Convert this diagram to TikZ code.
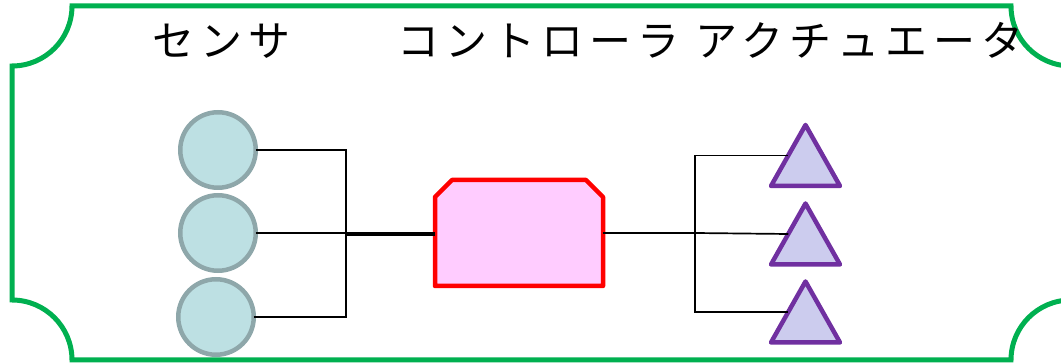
\documentclass[tikz,border=0pt]{standalone}
\usepackage{fontspec}
\newfontfamily\jpfont[LetterSpace=14.5]{Noto Sans CJK JP}
\usetikzlibrary{calc}
\definecolor{framegreen}{HTML}{00B050}
\definecolor{sensorfill}{HTML}{BDE0E3}
\definecolor{sensorline}{HTML}{8EA7AA}
\definecolor{ctrlfill}{HTML}{FFCCFF}
\definecolor{actfill}{HTML}{CCCCEE}
\definecolor{actline}{HTML}{7030A0}
\tikzset{
  frameline/.style={draw=framegreen, line width=5pt},
  sensor/.style={circle, draw=sensorline, fill=sensorfill, line width=4.5pt,
    minimum size=75.5pt, inner sep=0pt, outer sep=0pt},
  boxslot/.style={rectangle, draw=none, inner sep=0pt, outer sep=0pt},
  ctrlbox/.style={draw=red, fill=ctrlfill, line width=4.5pt, line join=round},
  actbox/.style={draw=actline, fill=actfill, line width=4.5pt, line join=round},
  wire/.style={draw=black, line width=1.7pt},
  heading/.style={font=\jpfont\fontsize{42}{48}\selectfont, inner sep=0pt, anchor=base west},
}
\begin{document}
\begin{tikzpicture}[x=1pt, y=1pt]
  \useasboundingbox (0,0) rectangle (1061,364);
  \clip (0,0) rectangle (1061,364);

  % outer frame with concave corners
  \draw[frameline] (72,358) -- (1011,358) arc (180:270:60)
    -- (1071,64) arc (90:180:60)
    -- (72,4) arc (0:90:60)
    -- (12,298) arc (270:360:60) -- cycle;

  % headings
  \node[heading] (tsens) at (152,307) {センサ};
  \node[heading] (tctrl) at (397,307) {コントローラ アクチュエータ};

  % sensors
  \node[sensor] (s1) at (218,214) {};
  \node[sensor] (s2) at (218,131) {};
  \node[sensor] (s3) at (216,47) {};

  % controller
  \node[boxslot, minimum width=168pt, minimum height=106pt] (ctrl) at (519,131) {};
  \path[ctrlbox] ([yshift=-17pt]ctrl.north west) -- ([xshift=17pt]ctrl.north west)
    -- ([xshift=-17pt]ctrl.north east) -- ([yshift=-17pt]ctrl.north east)
    -- (ctrl.south east) -- (ctrl.south west) -- cycle;

  % actuators
  \foreach \n/\y in {a1/208.5, a2/130, a3/52} {
    \node[boxslot, minimum width=69pt, minimum height=61pt] (\n) at (805.5,\y) {};
    \path[actbox] (\n.south west) -- (\n.north) -- (\n.south east) -- cycle;
    \coordinate (\n w) at ($(\n.south west)!0.5!(\n.north)$);
  }

  % junction points
  \coordinate (jl) at (346,129);
  \coordinate (jr) at (695,131);

  % sensor wiring
  \draw[wire] (s1.east) -| (jl) -- (jl -| ctrl.west);
  \draw[wire] (s2.east) -- (ctrl.west);
  \draw[wire] (s3.east) -| (jl) -- (jl -| ctrl.west);

  % actuator wiring
  \draw[wire] (ctrl.east) -- (jr) |- (a1w);
  \draw[wire] (jr) -- (a2w);
  \draw[wire] (jr) |- (a3w);
\end{tikzpicture}
\end{document}
